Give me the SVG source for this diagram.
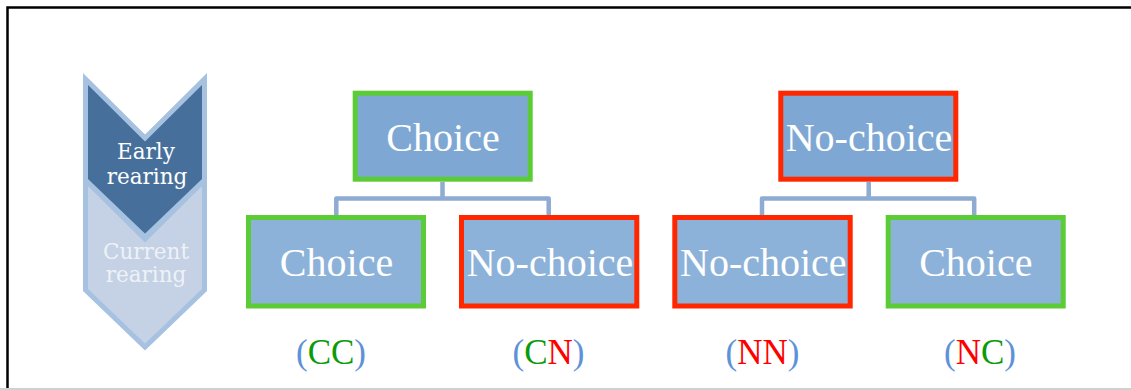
<svg xmlns="http://www.w3.org/2000/svg" width="1131" height="390" viewBox="0 0 1131 390">
<style>
.frame{fill:none;stroke:#000;stroke-width:2.5}
.chev{stroke:#a6c2e0;stroke-width:5;stroke-linejoin:miter}
.ctext{font-family:"DejaVu Serif",serif;font-size:21.5px;text-anchor:middle}
.top{fill:#7ea8d3}
.bot{fill:#8db2d9}
.g{stroke:#5bcc35;stroke-width:5}
.r{stroke:#ff2600;stroke-width:5}
.btext{font-family:"Liberation Serif",serif;font-size:40px;fill:#fff;text-anchor:middle}
.conn{fill:none;stroke:#8eabd2;stroke-width:4.5;stroke-linejoin:round}
.lab{font-family:"Liberation Serif",serif;font-size:35px;text-anchor:middle}
.p{fill:#5e92d8}
.cg{fill:#0a9a0a}
.cr{fill:#ff0000}
</style>
<rect width="1131" height="390" fill="#fff"/>
<line x1="0" y1="389" x2="1131" y2="389" stroke="#d0d0d0" stroke-width="2"/>
<path class="frame" d="M7.5 388 V7.5 H1131"/>
<g id="chevron">
<polygon class="chev" fill="#c5d1e4" points="85.5,180 145,239 204.5,180 204.5,290 145,347 85.5,290"/>
<polygon class="chev" fill="#46709b" points="85.5,79 145,138 204.5,79 204.5,180 145,237 85.5,180"/>
<text class="ctext" fill="#fff" x="146" y="158.5">Early</text>
<text class="ctext" fill="#fff" x="147" y="183.5">rearing</text>
<text class="ctext" fill="#eef2f8" x="146" y="258.5">Current</text>
<text class="ctext" fill="#eef2f8" x="146" y="282">rearing</text>
</g>
<g id="connectors">
<path class="conn" d="M442.5 182 V198.5 M336.3 216 V198.5 H548.7 V216"/>
<path class="conn" d="M868.7 182 V198.5 M762 216 V198.5 H974.2 V216"/>
</g>
<g id="node-choice-top">
<rect class="top g" x="355.2" y="93.2" width="175" height="86"/>
<text class="btext" x="443" y="151">Choice</text>
</g>
<g id="node-cc">
<rect class="bot g" x="248.5" y="217.5" width="175" height="88.5"/>
<text class="btext" x="336.5" y="276">Choice</text>
</g>
<g id="node-cn">
<rect class="bot r" x="461.5" y="217.5" width="175.3" height="88.5"/>
<text class="btext" x="550" y="276">No-choice</text>
</g>
<g id="node-nochoice-top">
<rect class="top r" x="780.8" y="93.2" width="175" height="86"/>
<text class="btext" x="869" y="151">No-choice</text>
</g>
<g id="node-nn">
<rect class="bot r" x="674.8" y="217.5" width="175.4" height="88.5"/>
<text class="btext" x="763.3" y="276">No-choice</text>
</g>
<g id="node-nc">
<rect class="bot g" x="888.2" y="217.5" width="175" height="88.5"/>
<text class="btext" x="975.8" y="276">Choice</text>
</g>
<g id="labels">
<text class="lab" x="331" y="364"><tspan class="p">(</tspan><tspan class="cg">CC</tspan><tspan class="p">)</tspan></text>
<text class="lab" x="548.5" y="364"><tspan class="p">(</tspan><tspan class="cg">C</tspan><tspan class="cr">N</tspan><tspan class="p">)</tspan></text>
<text class="lab" x="762.5" y="364"><tspan class="p">(</tspan><tspan class="cr">NN</tspan><tspan class="p">)</tspan></text>
<text class="lab" x="980" y="364"><tspan class="p">(</tspan><tspan class="cr">N</tspan><tspan class="cg">C</tspan><tspan class="p">)</tspan></text>
</g>
</svg>
